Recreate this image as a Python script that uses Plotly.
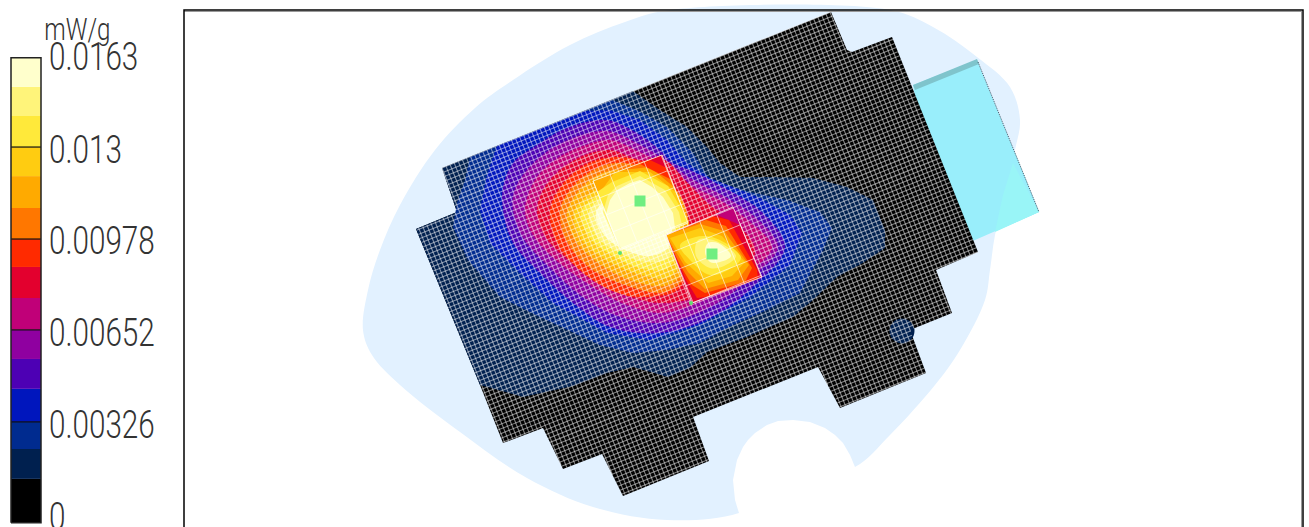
import plotly.graph_objects as go

# ---------- colour scale (mW/g) ----------
BAND_EDGES = [-0.0002, 0.00135, 0.00241, 0.00337, 0.00454, 0.00560, 0.00663, 0.00776,
              0.00886, 0.00985, 0.01095, 0.01208, 0.01311, 0.01421, 0.01524, 0.01627]
BAND_COLORS = ["#000000", "#00204f", "#002b8f", "#0016bd", "#4d00b4", "#8f00a0", "#c00078",
               "#e3002e", "#ff2a00", "#ff7700", "#ffaa00", "#ffcc11", "#ffe93a", "#fff47a", "#ffffcc"]
TICK_VALUES = [0, 0.00326, 0.00652, 0.00978, 0.013, 0.0163]
TICK_LABELS = ["0", "0.00326", "0.00652", "0.00978", "0.013", "0.0163"]
DIVIDERS = [0.00337, 0.00663, 0.00985, 0.01311]
UNIT = "mW/g"

# ---------- phantom outline, cut-out, cover ----------
BODY = [(363,330),(368,290),(380,250),(400,205),(435,150),(475,108),(513,80),(570,45),(625,22),(670,10),
        (890,10),(933,27),(977,57),(1010,87),(1020,120),(1015,150),(1005,195),(995,235),(990,270),(985,300),
        (960,350),(935,385),(890,435),(855,467),(800,480),(739,513),(667,520),(593,507),(527,478),(460,432),
        (400,385),(372,355)]
CUTOUT = [(855,467),(850,455),(843,443),(835,435),(825,428),(810,422),(793,420),(778,421),(767,425),(755,433),
          (748,440),(743,447),(737,460),(733,480),(735,500),(739,513),(745,527),(860,495)]
COVER = [(913,85),(977,60),(1039,212),(975,240),(940,250)]
COVER_TIP = [(1013,163),(1039,212),(995,232),(1003,195)]
COVER_BAND = [(913,85),(977,59),(979,64),(915,90)]
COVER_EDGE = [(978,62),(1039,212)]

# ---------- coarse scan area ----------
SCAN = [(831,12),(847,50),(852,52),(892,37),(978,252),(936,270),(952,313),(910,330),(926,373),(840,408),
        (818,367),(693,417),(709,461),(623,496),(602,454),(563,469),(543,428),(503,443),(480,385),(416,229),
        (457,212),(442,168)]
SPOT = [(902,331)]

LEVEL_A = [(633,91),(660,110),(687,127),(707,147),(720,163),(740,177),(773,177),(813,178),(847,187),(873,200),
           (885,230),(885,248),(863,263),(837,277),(813,300),(793,317),(747,337),(707,352),(690,368),(668,377),
           (633,367),(607,373),(573,386),(523,397),(480,385),(416,229),(457,212),(442,168)]
LEVEL_B = [(612,100),(637,110),(667,127),(693,153),(710,180),(750,192),(787,200),(820,212),(832,228),(823,250),
           (800,293),(767,310),(733,325),(700,343),(667,350),(633,353),(600,345),(540,317),(500,297),(468,260),
           (453,227),(457,203),(465,180),(470,157)]
LEVEL_C = [(585,111),(610,110),(640,120),(667,140),(687,163),(710,178),(760,198),(790,215),(802,233),(790,265),
           (750,297),(700,325),(650,340),(607,333),(553,303),(520,273),(490,243),(480,210),(487,175),(497,146)]
LEVEL_D = [(607,120),(637,133),(660,150),(673,163),(690,170),(725,188),(763,213),(785,247),(755,285),(710,318),
           (660,333),(610,327),(573,303),(540,273),(513,243),(503,210),(503,187),(513,163),(537,145),(567,128)]
LEVEL_E = [(607,131),(637,143),(665,160),(690,178),(722,195),(755,217),(778,247),(748,280),(705,310),(660,323),
           (615,315),(580,295),(548,266),(523,238),(513,210),(514,192),(523,175),(545,153),(573,138)]
LEVEL_F = [(610,140),(640,152),(665,165),(690,185),(720,200),(750,222),(772,247),(745,275),(700,302),(660,313),
           (622,303),(590,285),(558,262),(533,235),(525,210),(535,180),(555,160),(580,147)]
LEVEL_G = [(610,150),(640,160),(665,160),(685,180),(710,205),(735,222),(755,250),(740,278),(695,298),(660,303),
           (630,297),(597,283),(570,262),(545,236),(537,210),(543,190),(560,170),(585,155)]
LEVEL_H = [(615,157),(650,165),(680,195),(690,240),(680,288),(640,297),(610,290),(580,270),(557,243),(550,210),(562,185),(585,165)]
LEVEL_I = [(615,163),(650,170),(680,195),(690,230),(690,270),(665,292),(625,285),(590,268),(566,240),(560,210),(570,190),(590,172)]
LEVEL_J = [(615,170),(650,175),(675,190),(690,230),(688,265),(668,285),(630,280),(597,262),(575,240),(567,212),(590,180)]
LEVEL_K = [(615,177),(650,180),(675,200),(685,245),(670,277),(635,273),(603,258),(582,240),(574,212),(595,190)]
LEVEL_L = [(615,183),(645,182),(670,200),(680,235),(668,268),(640,268),(610,254),(590,238),(581,212),(598,195)]
LEVEL_M = [(615,190),(640,186),(665,200),(675,230),(668,258),(645,262),(618,252),(598,238),(589,212)]
LEVEL_N = [(620,192),(648,190),(665,205),(672,230),(668,248),(650,256),(625,250),(605,236),(596,212)]

# ---------- fine zoom squares ----------
SQUARE_1 = [(593,181),(662,155),(688,223),(620,250)]
S1_STRIP = [(593,181),(662,155),(677,193),(650,172),(615,172),(598,195)]
S1_ORANGE = [(622,170),(662,155),(675,188),(650,167)]
S1_RED = [(640,164),(662,155),(672,180)]
S1_CRIMSON = [(650,160),(662,155),(667,168)]
S1_YELLOW = [(597,192),(612,182),(640,171),(668,186),(685,215),(688,223),(620,250)]
S1_LEMON = [(603,212),(608,195),(617,186),(640,176),(665,190),(679,212),(682,225),(620,250)]
S1_PALE = [(606,214),(610,200),(617,190),(630,183),(640,180),(652,187),(663,197),(673,213),(675,228),(622,250),(616,240)]

SQUARE_2 = [(666,235),(733,207),(762,277),(692,303)]
S2_MAGENTA = [(715,214),(733,207),(740,225)]
S2_RED = [(666,235),(712,216),(729,220),(757,270),(758,279),(712,296),(697,298),(686,280)]
S2_ORANGE = [(666,235),(706,220),(726,226),(752,268),(745,282),(705,293),(692,285),(680,265)]
S2_AMBER = [(666,235),(700,224),(724,231),(749,265),(738,280),(705,289),(688,272)]
S2_GOLD = [(670,238),(700,228),(722,236),(745,262),(732,276),(708,283),(685,262)]
S2_YELLOW = [(680,245),(702,236),(720,240),(741,258),(728,270),(710,275),(690,260)]
S2_LEMON = [(698,240),(716,241),(736,256),(724,266),(710,268),(696,256)]
S2_PALE = [(708,243),(718,243),(731,256),(720,262),(710,262),(705,252)]

PEAKS = [(640,201),(712,254)]
PROBES = [(620,253),(691,303)]
FRAME = [(184,527),(184,10),(1303,10),(1303,527)]


def xs(p):
    return [a for a, _ in p]

def ys(p):
    return [b for _, b in p]

def closed(p):
    return p + [p[0]]

def poly(p, color, smooth=False):
    q = closed(p)
    return go.Scatter(x=xs(q), y=ys(q), mode="lines", fill="toself", fillcolor=color,
                      line=dict(width=0, color=color, shape="spline" if smooth else "linear", smoothing=1),
                      hoverinfo="skip", showlegend=False)

def mesh(p, origin, u, v, step):
    """Grid lines along u, spaced along v, kept inside polygon p."""
    out_x, out_y = [], []
    q = closed(p)
    dists = [(a - origin[0]) * v[0] + (b - origin[1]) * v[1] for a, b in p]
    k0, k1 = int(min(dists) // step), int(max(dists) // step) + 1
    for k in range(k0, k1 + 1):
        d = k * step
        hits = []
        for (x0, y0), (x1, y1) in zip(q[:-1], q[1:]):
            d0 = (x0 - origin[0]) * v[0] + (y0 - origin[1]) * v[1] - d
            d1 = (x1 - origin[0]) * v[0] + (y1 - origin[1]) * v[1] - d
            if (d0 < 0) != (d1 < 0):
                t = d0 / (d0 - d1)
                hx, hy = x0 + t * (x1 - x0), y0 + t * (y1 - y0)
                hits.append((hx * u[0] + hy * u[1], hx, hy))
        hits.sort()
        for a, b in zip(hits[0::2], hits[1::2]):
            out_x += [a[1], b[1], None]
            out_y += [a[2], b[2], None]
    return out_x, out_y

U = (0.928, -0.372)
V = (0.372, 0.928)

fig = go.Figure()

# colour bar on its own value axis
fig.add_trace(go.Bar(x=[26] * len(BAND_COLORS), y=[b - a for a, b in zip(BAND_EDGES[:-1], BAND_EDGES[1:])],
                     base=BAND_EDGES[:-1], width=30, marker=dict(color=BAND_COLORS, line=dict(width=0)),
                     yaxis="y2", hoverinfo="skip", showlegend=False))
for d in DIVIDERS:
    fig.add_trace(go.Scatter(x=[11, 41], y=[d, d], yaxis="y2", mode="lines",
                             line=dict(color="#111111", width=1.2), hoverinfo="skip", showlegend=False))
fig.add_trace(go.Scatter(x=[11, 11, 41, 41, 11], y=[BAND_EDGES[0], BAND_EDGES[-1], BAND_EDGES[-1], BAND_EDGES[0], BAND_EDGES[0]],
                         yaxis="y2", mode="lines", line=dict(color="#222222", width=1.5),
                         hoverinfo="skip", showlegend=False))

# phantom
fig.add_trace(poly(COVER, "#99eefb"))
fig.add_trace(poly(BODY, "#e2f1ff", smooth=True))
fig.add_trace(poly(CUTOUT, "#ffffff"))
fig.add_trace(poly(COVER, "#99eefb"))
fig.add_trace(poly(COVER_TIP, "#99f5f7"))
fig.add_trace(poly(COVER_BAND, "#7fc4cc"))
fig.add_trace(go.Scatter(x=xs(COVER_EDGE), y=ys(COVER_EDGE), mode="lines",
                         line=dict(color="#445566", width=1, dash="1px 1px"), hoverinfo="skip", showlegend=False))

# scan area and contour bands
fig.add_trace(poly(SCAN, "#000000"))
fig.add_trace(poly(LEVEL_A, "#00204f"))
fig.add_trace(poly(LEVEL_B, "#002b8f"))
fig.add_trace(poly(LEVEL_C, "#0016bd"))
for lev, c in zip([LEVEL_D, LEVEL_E, LEVEL_F, LEVEL_G, LEVEL_H, LEVEL_I, LEVEL_J, LEVEL_K, LEVEL_L, LEVEL_M, LEVEL_N],
                  BAND_COLORS[4:]):
    fig.add_trace(poly(lev, c, smooth=True))
fig.add_trace(go.Scatter(x=xs(SPOT), y=ys(SPOT), mode="markers",
                         marker=dict(color="#00204f", size=25, line=dict(width=0)),
                         hoverinfo="skip", showlegend=False))

# fine mesh
for a, b in ((U, V), (V, U)):
    gx, gy = mesh(SCAN, SCAN[-1], a, b, 4.4)
    fig.add_trace(go.Scatter(x=gx, y=gy, mode="lines", line=dict(color="rgba(255,255,255,0.5)", width=1.1),
                             hoverinfo="skip", showlegend=False))

# zoom squares
fig.add_trace(poly(SQUARE_1, "#ffcc11"))
fig.add_trace(poly(S1_STRIP, "#ffaa00"))
fig.add_trace(poly(S1_ORANGE, "#ff7700"))
fig.add_trace(poly(S1_RED, "#ff2a00"))
fig.add_trace(poly(S1_CRIMSON, "#e3002e"))
fig.add_trace(poly(S1_YELLOW, "#ffe93a"))
fig.add_trace(poly(S1_LEMON, "#fff47a"))
fig.add_trace(poly(S1_PALE, "#ffffcc"))

fig.add_trace(poly(SQUARE_2, "#e3002e"))
fig.add_trace(poly(S2_MAGENTA, "#c00078"))
fig.add_trace(poly(S2_RED, "#ff2a00"))
fig.add_trace(poly(S2_ORANGE, "#ff7700"))
fig.add_trace(poly(S2_AMBER, "#ffaa00"))
fig.add_trace(poly(S2_GOLD, "#ffcc11"))
fig.add_trace(poly(S2_YELLOW, "#ffe93a", smooth=True))
fig.add_trace(poly(S2_LEMON, "#fff47a", smooth=True))
fig.add_trace(poly(S2_PALE, "#ffffcc", smooth=True))

for sq in (SQUARE_1, SQUARE_2):
    side = 18.2
    for a, b in ((U, V), (V, U)):
        gx, gy = mesh(sq, sq[0], a, b, side)
        fig.add_trace(go.Scatter(x=gx, y=gy, mode="lines", line=dict(color="rgba(255,255,255,0.6)", width=1),
                                 hoverinfo="skip", showlegend=False))
    q = closed(sq)
    fig.add_trace(go.Scatter(x=xs(q), y=ys(q), mode="lines", line=dict(color="rgba(255,255,255,0.75)", width=1),
                             hoverinfo="skip", showlegend=False))

fig.add_trace(go.Scatter(x=xs(PEAKS), y=ys(PEAKS), mode="markers",
                         marker=dict(symbol="square", size=11, color="#70ee80", line=dict(width=0)),
                         hoverinfo="skip", showlegend=False))
fig.add_trace(go.Scatter(x=xs(PROBES), y=ys(PROBES), mode="markers",
                         marker=dict(symbol="circle", size=4, color="#60e070", line=dict(width=0)),
                         hoverinfo="skip", showlegend=False))

# frame
fig.add_trace(go.Scatter(x=[1301.5, 1301.5], y=[11.5, 527], mode="lines",
                         line=dict(color="#999999", width=1), hoverinfo="skip", showlegend=False))
fig.add_trace(go.Scatter(x=[184, 1302], y=[11.5, 11.5], mode="lines",
                         line=dict(color="#999999", width=1), hoverinfo="skip", showlegend=False))
fig.add_trace(go.Scatter(x=xs(FRAME), y=ys(FRAME), mode="lines",
                         line=dict(color="#000000", width=1.5), hoverinfo="skip", showlegend=False))

FONT = "Roboto, Liberation Sans, sans-serif"
fig.update_layout(
    width=1309, height=527, margin=dict(l=0, r=0, t=0, b=0, autoexpand=False),
    paper_bgcolor="white", plot_bgcolor="white", barmode="overlay", showlegend=False,
    xaxis=dict(range=[0, 1309], visible=False, fixedrange=True),
    yaxis=dict(range=[527, 0], visible=False, fixedrange=True),
    yaxis2=dict(overlaying="y", anchor="free", side="right", position=48 / 1309, automargin=False,
                range=[(517 - 527) / 28220, 517 / 28220], tickmode="array",
                tickvals=TICK_VALUES, ticktext=TICK_LABELS, ticks="", showgrid=False,
                zeroline=False, showline=False, fixedrange=True, ticklabeloverflow="allow",
                tickfont=dict(family=FONT, size=38, color="#333333", weight=300)),
    annotations=[dict(text=UNIT, x=77, y=29, xref="x", yref="y", showarrow=False,
                      font=dict(family=FONT, size=31, color="#333333", weight=300))],
)
NARROW = """
document.body.style.margin='0';document.body.style.overflow='hidden';
document.querySelectorAll('.y2tick text, .annotation-text').forEach(function(t){
  var l=t.getComputedTextLength();
  t.setAttribute('textLength', l*0.78);
  t.setAttribute('lengthAdjust','spacingAndGlyphs');
});
"""
fig.write_html("out.html", post_script=NARROW, config={"displayModeBar": False})
